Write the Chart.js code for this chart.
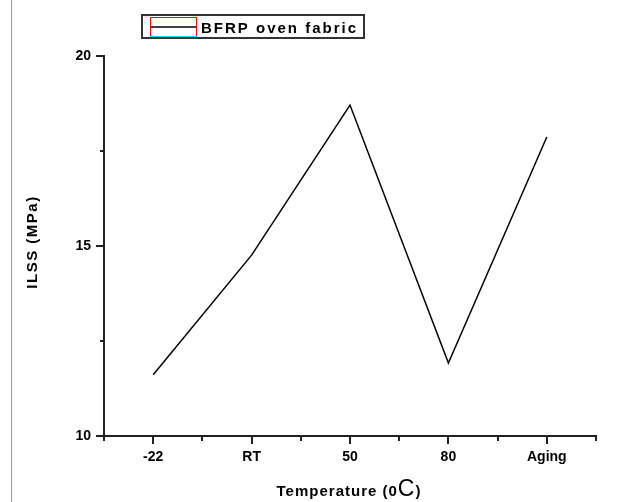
<!DOCTYPE html>
<html>
<head>
<meta charset="utf-8">
<script src="https://cdn.jsdelivr.net/npm/chart.js@4"></script>
<style>
  html, body { margin: 0; padding: 0; background: #fff; }
  #wrap { position: relative; width: 623px; height: 502px; }
  #edge { position: absolute; left: 11px; top: 0; width: 1px; height: 502px; background: #9a9a9a; }
</style>
</head>
<body>
<div id="wrap">
  <canvas id="chart" width="623" height="502"></canvas>
  <div id="edge"></div>
</div>
<script>
const categories = ["-22", "RT", "50", "80", "Aging"];
const ilssValues = [11.61, 14.76, 18.71, 11.92, 17.87];
const yTickLabels = [10, 15, 20];
const seriesName = "BFRP oven fabric";
const yTitle = "ILSS (MPa)";

const FONT = "'Liberation Sans', Arial, sans-serif";

// ticks: long on labelled values, short on the in-between ones
const tickMarks = {
  id: "tickMarks",
  afterDraw(chart) {
    const ctx = chart.ctx;
    const xs = chart.scales.x, ys = chart.scales.y;
    ctx.save();
    ctx.strokeStyle = "#222";
    ctx.lineWidth = 2;
    xs.ticks.forEach(t => {
      const px = Math.round(xs.getPixelForValue(t.value));
      const major = Number.isInteger(t.value);
      ctx.beginPath();
      ctx.moveTo(px, xs.top);
      ctx.lineTo(px, xs.top + (major ? 8 : 5));
      ctx.stroke();
    });
    ys.ticks.forEach(t => {
      const py = Math.round(ys.getPixelForValue(t.value));
      const major = yTickLabels.includes(t.value);
      ctx.beginPath();
      ctx.moveTo(ys.right, py);
      ctx.lineTo(ys.right - (major ? 8 : 4), py);
      ctx.stroke();
    });
    // y axis pokes a little below the x axis
    ctx.beginPath();
    ctx.moveTo(ys.right, ys.bottom);
    ctx.lineTo(ys.right, ys.bottom + 4);
    ctx.stroke();
    ctx.restore();
  }
};

// boxed legend, y title and the x title with its big "C"
const decorations = {
  id: "decorations",
  afterDraw(chart) {
    const ctx = chart.ctx;
    ctx.save();
    ctx.strokeStyle = "#333";
    ctx.lineWidth = 2;
    ctx.strokeRect(142, 15, 222, 23);
    ctx.strokeStyle = "#ff0000";
    ctx.lineWidth = 1;
    ctx.strokeRect(150.5, 17.5, 46, 19);
    ctx.strokeStyle = "#00e5ff";
    ctx.beginPath(); ctx.moveTo(150, 36.5); ctx.lineTo(197, 36.5); ctx.stroke();
    ctx.strokeStyle = "#000";
    ctx.lineWidth = 1.5;
    ctx.beginPath(); ctx.moveTo(151, 27); ctx.lineTo(196, 27); ctx.stroke();
    ctx.fillStyle = "#000";
    ctx.font = "bold 15px " + FONT;
    ctx.textBaseline = "alphabetic";
    ctx.textAlign = "left";
    ctx.letterSpacing = "2px";
    ctx.fillText(chart.data.datasets[0].label, 201, 33);

    ctx.save();
    ctx.translate(37, 242);
    ctx.rotate(-Math.PI / 2);
    ctx.textAlign = "center";
    ctx.letterSpacing = "1.5px";
    ctx.font = "bold 15px " + FONT;
    ctx.fillText(yTitle, 0, 0);
    ctx.restore();

    ctx.letterSpacing = "1px";
    const a = "Temperature (0", b = "C", c = ")";
    const fa = "bold 15px " + FONT, fb = "23px " + FONT;
    ctx.font = fa; const wa = ctx.measureText(a).width, wc = ctx.measureText(c).width;
    ctx.font = fb; const wb = ctx.measureText(b).width;
    let x = 349 - (wa + wb + wc) / 2;
    const base = 496;
    ctx.font = fa; ctx.fillText(a, x, base); x += wa;
    ctx.font = fb; ctx.fillText(b, x, base); x += wb;
    ctx.font = fa; ctx.fillText(c, x, base);
    ctx.restore();
  }
};

new Chart(document.getElementById("chart"), {
  type: "line",
  data: {
    datasets: [{
      label: seriesName,
      data: ilssValues.map((v, i) => ({ x: i, y: v })),
      borderColor: "#000",
      borderWidth: 1.5,
      pointRadius: 0,
      tension: 0,
      fill: false
    }]
  },
  options: {
    responsive: false,
    animation: false,
    layout: { padding: { left: 0, right: 27, top: 56, bottom: 0 } },
    plugins: { legend: { display: false }, tooltip: { enabled: false } },
    scales: {
      x: {
        type: "linear",
        min: -0.5,
        max: 4.5,
        afterFit: s => { s.height = 66; },
        border: { display: true, color: "#222", width: 2 },
        grid: { display: true, drawOnChartArea: false, drawTicks: true, tickLength: 8, color: "transparent" },
        ticks: {
          stepSize: 0.5,
          autoSkip: false,
          maxRotation: 0,
          padding: 5,
          color: "#000",
          font: { family: FONT, size: 14, weight: "bold" },
          callback: v => Number.isInteger(v) ? categories[v] : ""
        }
      },
      y: {
        min: 10,
        max: 20,
        afterFit: s => { s.width = 104; },
        border: { display: true, color: "#222", width: 2 },
        grid: { display: true, drawOnChartArea: false, drawTicks: true, tickLength: 8, color: "transparent" },
        ticks: {
          stepSize: 2.5,
          autoSkip: false,
          padding: 5,
          color: "#000",
          font: { family: FONT, size: 14, weight: "bold" },
          callback: v => yTickLabels.includes(v) ? String(v) : ""
        }
      }
    }
  },
  plugins: [tickMarks, decorations]
});
</script>
</body>
</html>
